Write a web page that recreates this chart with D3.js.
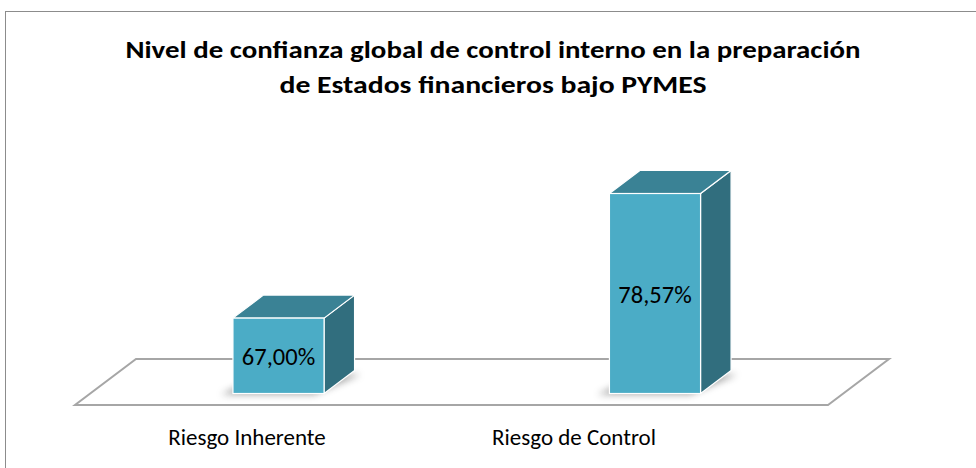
<!DOCTYPE html>
<html lang="es">
<head>
  <meta charset="UTF-8">
  <title>Nivel de confianza global</title>
  <script src="https://d3js.org/d3.v7.min.js"></script>
  <style>
    body { margin: 0; background: #fff; }
    text { font-family: Carlito, Calibri, Lato, sans-serif; fill: #000; }
    .title { font-weight: bold; font-size: 25px; }
    .cat { font-size: 23px; }
    .val { font-size: 24.5px; }
  </style>
</head>
<body>
  <svg width="976" height="468"></svg>

  <script>
    // Data
    const categories = ["Riesgo Inherente", "Riesgo de Control"];
    const values = [67.00, 78.57];
    const valueLabels = ["67,00%", "78,57%"];
    const titleLines = [
      "Nivel de confianza global de control interno en la preparación",
      "de Estados financieros bajo PYMES"
    ];
    const titleWidths = [735, 427];

    const svg = d3.select("svg");

    // chart frame
    svg.append("rect")
      .attr("x", 5.5).attr("y", 11.5)
      .attr("width", 990).attr("height", 480)
      .attr("fill", "#fff")
      .attr("stroke", "#8c8c8c").attr("stroke-width", 1);

    // title
    svg.selectAll(".title")
      .data(titleLines)
      .join("text")
      .attr("class", "title")
      .attr("text-anchor", "middle")
      .attr("x", 493)
      .attr("y", (d, i) => 58 + i * 35)
      .attr("textLength", (d, i) => titleWidths[i])
      .attr("lengthAdjust", "spacingAndGlyphs")
      .text(d => d);

    // floor geometry
    const floorLeft = 75, floorRight = 828, floorY = 405;
    const depth = [61, -46];
    const plane = [depth[0] * 0.25, depth[1] * 0.25];   // front face of the bars
    const barDepth = [depth[0] * 0.5, depth[1] * 0.5];

    const x = d3.scaleBand()
      .domain(categories)
      .range([floorLeft + plane[0], floorRight + plane[0]]);

    const barW = x.bandwidth() * 0.242;

    const y = d3.scaleLinear()
      .domain([60, 80])
      .range([floorY + plane[1], floorY + plane[1] - 215.4]);

    // floor
    svg.append("polygon")
      .attr("points", [
        [floorLeft, floorY],
        [floorRight, floorY],
        [floorRight + depth[0], floorY + depth[1]],
        [floorLeft + depth[0], floorY + depth[1]]
      ].map(p => p.join(",")).join(" "))
      .attr("fill", "#fff")
      .attr("stroke", "#a6a6a6")
      .attr("stroke-width", 2);

    // shadow filter
    const defs = svg.append("defs");
    defs.append("filter")
      .attr("id", "blur")
      .attr("x", "-50%").attr("y", "-50%").attr("width", "200%").attr("height", "200%")
      .append("feGaussianBlur")
      .attr("stdDeviation", 3.5);

    const bars = svg.selectAll(".bar")
      .data(categories.map((c, i) => ({ cat: c, value: values[i], label: valueLabels[i] })))
      .join("g")
      .attr("class", "bar");

    const x0 = d => x(d.cat) + x.bandwidth() / 2 - barW / 2;
    const x1 = d => x0(d) + barW;
    const base = y(60);

    // soft shadow at the foot of each bar
    bars.append("polygon")
      .attr("points", d => [
        [x0(d) - 12, base + 1],
        [x1(d) - 10, base + 1],
        [x1(d) + barDepth[0] + 6, base + barDepth[1] + 4],
        [x0(d) + barDepth[0], base + barDepth[1] + 4]
      ].map(p => p.join(",")).join(" "))
      .attr("fill", "#7f7f7f")
      .attr("opacity", 0.7)
      .attr("filter", "url(#blur)");

    // side face
    bars.append("polygon")
      .attr("points", d => [
        [x1(d), base],
        [x1(d) + barDepth[0], base + barDepth[1]],
        [x1(d) + barDepth[0], y(d.value) + barDepth[1]],
        [x1(d), y(d.value)]
      ].map(p => p.join(",")).join(" "))
      .attr("fill", "#316e7e")
      .attr("stroke", "#fff").attr("stroke-width", 1.2).attr("stroke-linejoin", "round");

    // top face
    bars.append("polygon")
      .attr("points", d => [
        [x0(d), y(d.value)],
        [x1(d), y(d.value)],
        [x1(d) + barDepth[0], y(d.value) + barDepth[1]],
        [x0(d) + barDepth[0], y(d.value) + barDepth[1]]
      ].map(p => p.join(",")).join(" "))
      .attr("fill", "#3a8295")
      .attr("stroke", "#fff").attr("stroke-width", 1.2).attr("stroke-linejoin", "round");

    // front face
    bars.append("rect")
      .attr("x", d => x0(d))
      .attr("y", d => y(d.value))
      .attr("width", barW)
      .attr("height", d => base - y(d.value))
      .attr("fill", "#4bacc6")
      .attr("stroke", "#fff").attr("stroke-width", 1.2);

    // value labels
    bars.append("text")
      .attr("class", "val")
      .attr("text-anchor", "middle")
      .attr("x", d => x0(d) + barW / 2)
      .attr("y", d => (y(d.value) + base) / 2 + 9)
      .text(d => d.label);

    // category labels
    const xl = d3.scalePoint()
      .domain(categories)
      .range([247, 574]);

    svg.selectAll(".cat")
      .data(categories)
      .join("text")
      .attr("class", "cat")
      .attr("text-anchor", "middle")
      .attr("x", d => xl(d))
      .attr("y", 445)
      .text(d => d);
  </script>
</body>
</html>
